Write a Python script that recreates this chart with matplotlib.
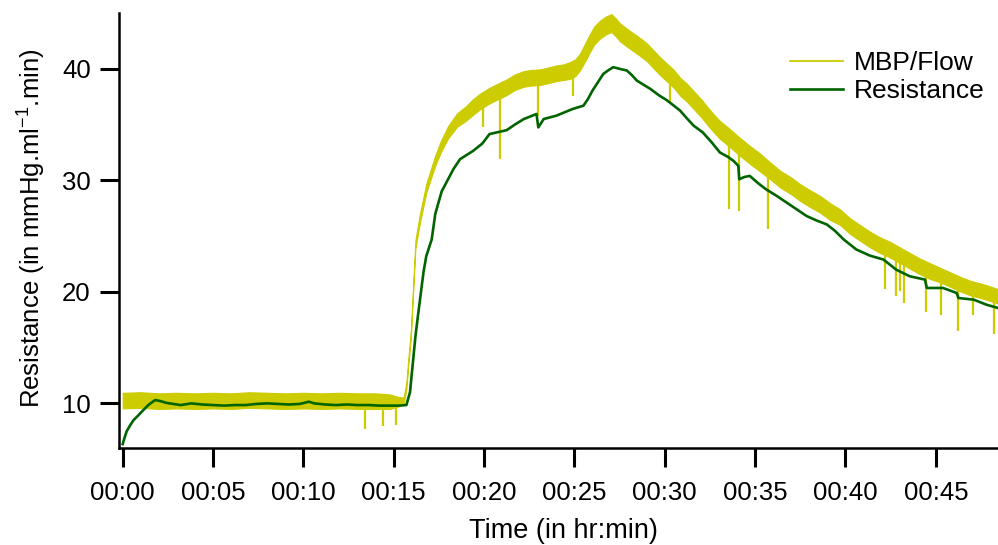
import matplotlib
matplotlib.use("Agg")
import numpy as np
import matplotlib.pyplot as plt
from matplotlib.lines import Line2D
from matplotlib.ticker import FixedLocator, FuncFormatter

plt.rcParams['font.family'] = ['Liberation Sans', 'DejaVu Sans']
plt.rcParams['mathtext.default'] = 'regular'

# MBP/Flow trace: time (min), centre of the noisy band and its half-width
mbp_t = [0.0, 1.0, 2.0, 3.0, 4.0, 5.0, 6.0, 7.0, 8.0, 9.0,
         10.0, 11.0, 12.0, 13.0, 14.0, 14.8, 15.3, 15.55, 15.7, 15.8,
         15.95, 16.08, 16.2, 16.45, 16.8, 17.3, 17.6, 18.0, 18.5, 19.0,
         19.4, 19.8, 20.3, 20.8, 21.25, 21.7, 22.2, 22.6, 23.1, 23.5,
         24.0, 24.4, 24.75, 25.05, 25.3, 25.6, 25.85, 26.1, 26.4, 26.75,
         27.05, 27.3, 27.5, 27.9, 28.25, 28.6, 29.0, 29.35, 29.7, 30.1,
         30.5, 30.85, 31.2, 31.6, 32.0, 32.5, 33.0, 33.6, 34.16, 34.7,
         35.27, 35.8, 36.4, 37.0, 37.5, 38.0, 38.6, 39.15, 39.7, 40.25,
         40.8, 41.35, 41.9, 42.45, 43.0, 43.55, 44.1, 44.7, 45.25, 45.8,
         46.35, 46.9, 47.7, 48.44]
mbp_mid = [10.25, 10.3, 10.2, 10.25, 10.2, 10.25, 10.2, 10.3, 10.25, 10.2,
           10.25, 10.2, 10.25, 10.2, 10.2, 10.15, 10.15, 10.25, 11.6, 13.6,
           16.3, 20.5, 24.3, 26.6, 29.3, 31.8, 33.0, 34.3, 35.4, 36.0,
           36.6, 37.1, 37.6, 38.0, 38.35, 38.8, 39.1, 39.2, 39.25, 39.4,
           39.6, 39.7, 39.85, 40.1, 40.6, 41.5, 42.3, 43.0, 43.5, 43.9,
           44.1, 43.7, 43.3, 42.8, 42.4, 42.0, 41.5, 40.9, 40.3, 39.7,
           39.1, 38.4, 37.9, 37.2, 36.5, 35.5, 34.6, 33.8, 33.0, 32.3,
           31.6, 30.9, 30.1, 29.5, 28.9, 28.4, 27.85, 27.2, 26.7, 25.9,
           25.3, 24.7, 24.2, 23.8, 23.3, 22.8, 22.3, 21.85, 21.5, 21.1,
           20.7, 20.35, 20.0, 19.6]
mbp_half = [0.7, 0.7, 0.7, 0.7, 0.7, 0.7, 0.7, 0.7, 0.7, 0.7,
            0.7, 0.7, 0.7, 0.7, 0.7, 0.65, 0.4, 0.3, 0.3, 0.3,
            0.3, 0.3, 0.35, 0.4, 0.4, 0.45, 0.5, 0.55, 0.6, 0.65,
            0.7, 0.7, 0.7, 0.7, 0.7, 0.7, 0.7, 0.7, 0.7, 0.7,
            0.7, 0.7, 0.75, 0.75, 0.75, 0.8, 0.8, 0.8, 0.8, 0.8,
            0.8, 0.8, 0.8, 0.8, 0.8, 0.8, 0.8, 0.8, 0.8, 0.8,
            0.8, 0.8, 0.8, 0.8, 0.8, 0.8, 0.8, 0.8, 0.8, 0.8,
            0.8, 0.75, 0.75, 0.75, 0.75, 0.75, 0.75, 0.75, 0.7, 0.7,
            0.7, 0.7, 0.7, 0.7, 0.7, 0.7, 0.7, 0.7, 0.65, 0.65,
            0.65, 0.65, 0.65, 0.65]

# short downward artefacts in the MBP/Flow trace
spike_t = [13.4, 14.4, 15.1, 19.95, 20.9, 22.97, 24.9, 30.3, 33.57, 34.12,
           35.7, 42.2, 42.8, 43.0, 43.25, 44.45, 45.3, 46.2, 47.05, 48.2]
spike_top = [9.6, 9.6, 9.8, 36.5, 37.5, 38.7, 39.4, 38.6, 34.0, 33.0,
             31.2, 23.6, 23.2, 23.1, 22.9, 21.8, 21.3, 20.6, 20.2, 19.6]
spike_low = [7.7, 7.95, 8.1, 34.75, 31.9, 35.8, 37.6, 36.9, 27.4, 27.25,
             25.6, 20.3, 19.6, 20.1, 19.0, 18.15, 17.9, 16.5, 17.95, 16.2]

# computed resistance
res_t = [0.0, 0.1, 0.22, 0.4, 0.6, 0.85, 1.14, 1.45, 1.8, 2.1,
         2.4, 2.8, 3.2, 3.8, 4.4, 5.0, 5.6, 6.2, 6.8, 7.4,
         8.0, 8.6, 9.2, 9.8, 10.3, 10.6, 11.2, 11.8, 12.4, 13.0,
         13.6, 14.2, 14.8, 15.3, 15.7, 15.9, 16.05, 16.2, 16.35, 16.5,
         16.65, 16.8, 17.1, 17.3, 17.65, 18.3, 18.67, 19.4, 19.9, 20.3,
         21.25, 21.7, 22.2, 22.9, 23.0, 23.3, 24.0, 24.9, 25.5, 25.75,
         26.0, 26.3, 26.6, 26.9, 27.15, 27.5, 27.9, 28.2, 28.45, 28.8,
         29.2, 29.7, 30.1, 30.5, 30.85, 31.2, 31.6, 32.1, 32.6, 33.05,
         33.5, 33.8, 34.07, 34.12, 34.4, 34.7, 35.2, 35.6, 36.2, 36.75,
         37.3, 37.85, 38.4, 38.96, 39.4, 39.9, 40.6, 41.35, 42.1, 42.8,
         43.55, 44.4, 44.5, 45.4, 46.15, 46.25, 47.1, 47.8, 48.44]
res_val = [6.35, 6.9, 7.5, 8.0, 8.5, 8.9, 9.4, 9.9, 10.3, 10.2,
           10.05, 9.95, 9.85, 10.0, 9.9, 9.85, 9.8, 9.85, 9.85, 9.95,
           10.0, 9.95, 9.9, 9.95, 10.15, 10.0, 9.9, 9.85, 9.9, 9.85,
           9.85, 9.8, 9.8, 9.8, 9.85, 11.0, 13.5, 16.0, 18.0, 19.9,
           21.8, 23.2, 24.7, 27.0, 29.0, 31.0, 31.9, 32.65, 33.3, 34.15,
           34.5, 35.0, 35.5, 35.95, 34.75, 35.5, 35.8, 36.4, 36.7, 37.3,
           38.05, 38.8, 39.55, 39.9, 40.15, 40.0, 39.85, 39.4, 38.95, 38.6,
           38.2, 37.6, 37.2, 36.7, 36.25, 35.6, 34.9, 34.3, 33.4, 32.5,
           32.1, 31.75, 31.3, 30.1, 30.3, 30.4, 29.7, 29.2, 28.6, 28.0,
           27.4, 26.8, 26.4, 26.05, 25.5, 24.7, 23.8, 23.25, 22.9, 22.0,
           21.4, 21.1, 20.35, 20.35, 19.9, 19.45, 19.3, 18.85, 18.55]

xticks = [0, 5, 10, 15, 20, 25, 30, 35, 40, 45]
yticks = [10, 20, 30, 40]

YELLOW = '#cccc00'
GREEN = '#006400'

fig = plt.figure(figsize=(9.98, 5.45), dpi=100)
ax = fig.add_axes([0.1195, 0.178, 0.8805, 0.798])

t = np.array(mbp_t)
mid = np.array(mbp_mid)
half = np.array(mbp_half)
ax.fill_between(t, mid - half, mid + half, color=YELLOW, lw=0.8, ec=YELLOW, zorder=2)
ax.vlines(spike_t, spike_low, spike_top, color=YELLOW, lw=1.6, zorder=2)
ax.plot(res_t, res_val, color=GREEN, lw=1.9, zorder=3)

ax.set_xlim(-0.19, 48.44)
ax.set_ylim(6.0, 45.0)

ax.xaxis.set_major_locator(FixedLocator(xticks))
ax.xaxis.set_major_formatter(FuncFormatter(lambda v, p: '%02d:%02d' % divmod(int(v), 60)))
ax.yaxis.set_major_locator(FixedLocator(yticks))

for side in ('top', 'right'):
    ax.spines[side].set_visible(False)
for side in ('left', 'bottom'):
    ax.spines[side].set_linewidth(1.8)

ax.tick_params(direction='out', length=13.5, width=2.2, labelsize=18.5)
ax.tick_params(axis='x', pad=10)
ax.tick_params(axis='y', pad=7)

ax.set_xlabel('Time (in hr:min)', fontsize=19.5)
ax.xaxis.set_label_coords(0.5055, -0.162)
ax.set_ylabel('Resistance (in mmHg.ml$^{-1}$.min)', fontsize=18.5)
ax.yaxis.set_label_coords(-0.081, 0.505)

handles = [Line2D([], [], color=YELLOW, lw=1.3),
           Line2D([], [], color=GREEN, lw=1.9)]
ax.legend(handles, ['MBP/Flow', 'Resistance'], loc='upper left',
          bbox_to_anchor=(0.7916, 0.906), bbox_transform=fig.transFigure,
          frameon=False, fontsize=19, borderpad=0, borderaxespad=0,
          handlelength=2.0, handletextpad=0.42, labelspacing=0.15)

fig.savefig('out.png', dpi=100)
